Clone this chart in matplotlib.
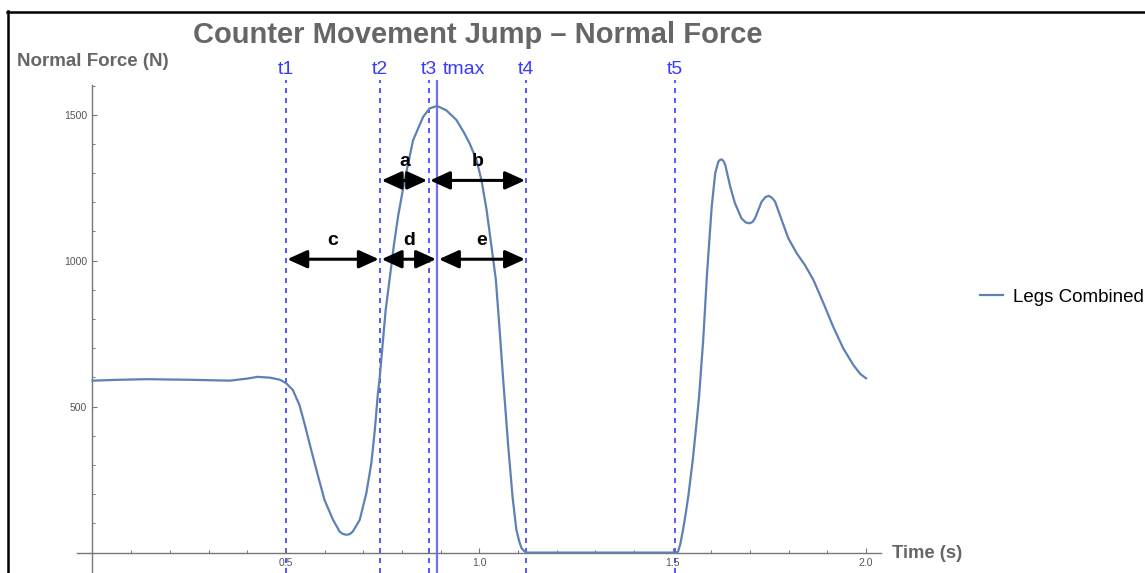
import matplotlib.pyplot as plt
from matplotlib.lines import Line2D

plt.rcParams['font.family'] = ['Liberation Sans', 'DejaVu Sans']

# Normal force (N) vs time (s), legs combined
time_s = [0.00, 0.07, 0.14, 0.25, 0.355, 0.40, 0.427, 0.46, 0.485, 0.501,
          0.518, 0.535, 0.548, 0.561, 0.579, 0.600, 0.622, 0.639, 0.647, 0.656,
          0.665, 0.673, 0.691, 0.708, 0.721, 0.730, 0.738, 0.742, 0.750, 0.758,
          0.768, 0.779, 0.790, 0.807, 0.829, 0.855, 0.872, 0.891, 0.915, 0.941,
          0.960, 0.975, 0.993, 1.006, 1.019, 1.036, 1.043, 1.052, 1.062, 1.075,
          1.086, 1.096, 1.103, 1.109, 1.116, 1.122, 1.30, 1.507, 1.514, 1.520,
          1.527, 1.534, 1.541, 1.552, 1.560, 1.568, 1.579, 1.589, 1.601, 1.610,
          1.618, 1.623, 1.627, 1.632, 1.636, 1.649, 1.661, 1.678, 1.689, 1.698,
          1.706, 1.713, 1.730, 1.740, 1.749, 1.757, 1.765, 1.782, 1.799, 1.821,
          1.842, 1.864, 1.890, 1.915, 1.941, 1.967, 1.985, 2.00]
force_n = [589, 592, 594, 592, 589, 596, 602, 599, 592, 580,
           557, 506, 443, 375, 283, 180, 112, 72, 64, 61,
           63, 72, 112, 203, 306, 420, 546, 591, 710, 830,
           934, 1050, 1151, 1276, 1413, 1493, 1522, 1530, 1515, 1482,
           1440, 1402, 1345, 1274, 1174, 1005, 934, 775, 590, 363,
           192, 78, 40, 16, 5, 0, 0, 0, 3, 30,
           79, 135, 198, 317, 420, 529, 728, 957, 1185, 1299,
           1339, 1346, 1347, 1340, 1328, 1253, 1197, 1145, 1131, 1128,
           1132, 1145, 1202, 1218, 1222, 1215, 1202, 1139, 1077, 1025,
           985, 934, 854, 774, 700, 643, 612, 597]

# event markers
events = {'t1': 0.500, 't2': 0.744, 't3': 0.869, 't4': 1.122, 't5': 1.507}
t_max = 0.892

# phase arrows: (label, start, end, force level)
phases = [('a', events['t2'], events['t3'], 1275),
          ('b', events['t3'], events['t4'], 1275),
          ('c', events['t1'], events['t2'], 1005),
          ('d', events['t2'], t_max, 1005),
          ('e', t_max, events['t4'], 1005)]

fig = plt.figure(figsize=(11.45, 5.73), dpi=100)
ax = fig.add_axes([77 / 1145, 0, 804.5 / 1145, 493.3 / 573])
ax.set_xlim(-0.04, 2.04)
ax.set_ylim(-70, 1620)

blue = '#3a3aff'
for name, t in events.items():
    ax.axvline(t, color=blue, lw=1.2, ls=(0, (3, 3)), zorder=1)
    ax.text(t, 1655, name, color=blue, fontsize=14, ha='center', va='center',
            clip_on=False)
ax.axvline(t_max, color='#7070ff', lw=1.6, zorder=1)
ax.text(t_max + 0.013, 1655, 'tmax', color=blue, fontsize=14, ha='left',
        va='center', clip_on=False)

line, = ax.plot(time_s, force_n, color='#5e81b5', lw=1.6, zorder=3,
                label='Legs Combined', solid_joinstyle='round')

for lab, t0, t1, f in phases:
    ax.annotate('', xy=(t1, f), xytext=(t0, f),
                arrowprops=dict(arrowstyle='<|-|>,head_length=0.55,head_width=0.25',
                                lw=2.2, color='black', mutation_scale=22,
                                shrinkA=1, shrinkB=1), zorder=4)
    ax.text((t0 + t1) / 2, f + 65, lab, fontsize=14, fontweight='bold',
            ha='center', va='center', zorder=5)

# axes crossing at the origin
for s in ['top', 'right']:
    ax.spines[s].set_visible(False)
ax.spines['left'].set_position(('data', 0))
ax.spines['bottom'].set_position(('data', 0))
ax.spines['left'].set_bounds(-70, 1601)
for s in ['left', 'bottom']:
    ax.spines[s].set_color('#777777')
    ax.spines[s].set_linewidth(1.0)
ax.set_xticks([0.5, 1.0, 1.5, 2.0])
ax.set_xticklabels(['0.5', '1.0', '1.5', '2.0'])
ax.set_xticks([0.1, 0.2, 0.3, 0.4, 0.6, 0.7, 0.8, 0.9, 1.1, 1.2, 1.3, 1.4,
               1.6, 1.7, 1.8, 1.9], minor=True)
ax.set_yticks([500, 1000, 1500])
ax.set_yticks([100, 200, 300, 400, 600, 700, 800, 900, 1100, 1200, 1300, 1400,
               1600], minor=True)
ax.tick_params(which='major', direction='in', length=3.5, width=0.8,
               color='#777777', labelcolor='#555555', labelsize=7.5, pad=4)
ax.tick_params(which='minor', direction='in', length=2.2, width=0.7,
               color='#777777')

ax.legend(handles=[line], loc='center left',
          bbox_to_anchor=(980 / 1145, 1 - 297 / 573),
          bbox_transform=fig.transFigure, frameon=False, fontsize=13.5,
          handlelength=1.25, handletextpad=0.5, borderpad=0, borderaxespad=0)

fig.text(478 / 1145, 1 - 35 / 573, 'Counter Movement Jump – Normal Force',
         fontsize=21, fontweight='bold', color='#666666', ha='center', va='center')
fig.text(17 / 1145, 1 - 62 / 573, 'Normal Force (N)', fontsize=13.5,
         fontweight='bold', color='#666666', ha='left', va='center')
fig.text(892 / 1145, 1 - 554 / 573, 'Time (s)', fontsize=13.3,
         fontweight='bold', color='#666666', ha='left', va='center')

# border of the panel
fig.add_artist(Line2D([8 / 1145, 8 / 1145], [0, 1 - 11 / 573], color='black',
                      lw=1.8, transform=fig.transFigure))
fig.add_artist(Line2D([7 / 1145, 1], [1 - 11.5 / 573, 1 - 11.5 / 573],
                      color='black', lw=1.8, transform=fig.transFigure))

fig.savefig('out.png', dpi=100)
